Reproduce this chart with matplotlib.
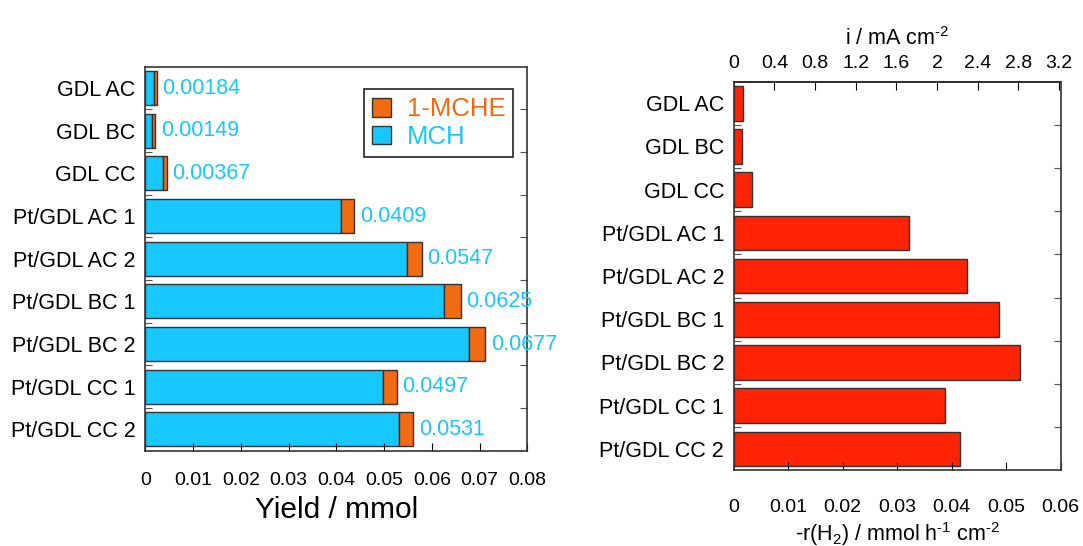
import numpy as np
import matplotlib.pyplot as plt

plt.rcParams['font.family'] = ['Liberation Sans', 'DejaVu Sans']
plt.rcParams['mathtext.default'] = 'regular'

samples = ['GDL AC', 'GDL BC', 'GDL CC', 'Pt/GDL AC 1', 'Pt/GDL AC 2',
           'Pt/GDL BC 1', 'Pt/GDL BC 2', 'Pt/GDL CC 1', 'Pt/GDL CC 2']
mch = [0.00184, 0.00149, 0.00367, 0.0409, 0.0547, 0.0625, 0.0677, 0.0497, 0.0531]
mche = [0.00055, 0.0006, 0.0008, 0.0029, 0.0032, 0.0036, 0.0035, 0.0030, 0.0030]
rate_h2 = [0.00176, 0.00152, 0.0033, 0.0322, 0.0428, 0.0487, 0.0526, 0.0388, 0.0415]

yield_ticks = [0, 0.01, 0.02, 0.03, 0.04, 0.05, 0.06, 0.07, 0.08]
yield_ticklabels = ['0', '0.01', '0.02', '0.03', '0.04', '0.05', '0.06', '0.07', '0.08']
rate_ticks = [0, 0.01, 0.02, 0.03, 0.04, 0.05, 0.06]
rate_ticklabels = ['0', '0.01', '0.02', '0.03', '0.04', '0.05', '0.06']
current_ticks = [0, 0.4, 0.8, 1.2, 1.6, 2, 2.4, 2.8, 3.2]
current_ticklabels = ['0', '0.4', '0.8', '1.2', '1.6', '2', '2.4', '2.8', '3.2']

CYAN = '#17c7ff'
ORANGE = '#f26a12'
RED = '#ff2405'
EDGE = '#333333'

# mmol h-1 cm-2 -> mA cm-2 (2 electrons per H2)
F = 96485.0
to_current = lambda r: r * 2 * F / 3600.0
to_rate = lambda i: i * 3600.0 / (2 * F)

fig = plt.figure(figsize=(10.83, 5.46), dpi=100)
ax1 = fig.add_axes([0.1342, 0.1745, 0.3527, 0.7033])
ax2 = fig.add_axes([0.6775, 0.1383, 0.3019, 0.7121])

y = np.arange(len(samples))
boundaries = np.arange(len(samples) - 1) + 0.5


def style_categories(ax):
    ax.set_ylim(len(samples) - 0.5, -0.5)
    ax.set_yticks(boundaries)
    ax.set_yticklabels([])
    ax.set_yticks(y, minor=True)
    ax.set_yticklabels(samples, minor=True, fontsize=15.5)
    ax.tick_params(axis='y', which='minor', length=0, pad=7)
    ax.tick_params(axis='y', which='major', direction='in', length=5,
                   left=True, right=True, color='#555555')
    for s in ax.spines.values():
        s.set_linewidth(1.2)
        s.set_color('#333333')


# left panel: stacked yields
b1 = ax1.barh(y, mch, height=0.8, color=CYAN, edgecolor=EDGE, linewidth=1, label='MCH')
totals = np.array(mch) + np.array(mche)
b2 = ax1.barh(y, mche, left=mch, height=0.8, color=ORANGE, edgecolor=EDGE,
              linewidth=1, label='1-MCHE')
for yi, tot, v in zip(y, totals, mch):
    ax1.annotate(f'{v:g}', (tot, yi), xytext=(4, 0), textcoords='offset points',
                 va='center', ha='left', color=CYAN, fontsize=15.5)

ax1.set_xlim(0, 0.08)
ax1.set_xticks(yield_ticks)
ax1.set_xticklabels(yield_ticklabels, fontsize=14)
ax1.tick_params(axis='x', direction='in', length=6, pad=15)
ax1.set_xlabel('Yield / mmol', fontsize=21.5, labelpad=5)
style_categories(ax1)

leg = ax1.legend([b2, b1], ['1-MCHE', 'MCH'], loc='upper right',
                 bbox_to_anchor=(0.963, 0.941), borderaxespad=0,
                 fontsize=18.5, fancybox=False,
                 edgecolor='#222222', handlelength=0.75, handleheight=0.75,
                 handletextpad=0.6, borderpad=0.3, labelspacing=0.15,
                 framealpha=1)
leg.get_frame().set_linewidth(1.2)
leg.get_texts()[0].set_color(ORANGE)
leg.get_texts()[1].set_color(CYAN)

# right panel: H2 consumption rate
ax2.barh(y, rate_h2, height=0.8, color=RED, edgecolor=EDGE, linewidth=1)
ax2.set_xlim(0, 0.06)
ax2.set_xticks(rate_ticks)
ax2.set_xticklabels(rate_ticklabels, fontsize=14)
ax2.tick_params(axis='x', direction='in', length=6, pad=20.5)
ax2.set_xlabel('-r(H$_2$) / mmol h$^{\u2010 1}$ cm$^{\u2010 2}$', fontsize=15.5, labelpad=3)
style_categories(ax2)

top = ax2.secondary_xaxis('top', functions=(to_current, to_rate))
top.set_xticks(current_ticks)
top.set_xticklabels(current_ticklabels, fontsize=14)
top.tick_params(direction='in', length=6, pad=7)
top.set_xlabel('i / mA cm$^{\u2010 2}$', fontsize=15.5, labelpad=7.5)
top.spines['top'].set_linewidth(1.2)

fig.savefig('out.png', dpi=100)
